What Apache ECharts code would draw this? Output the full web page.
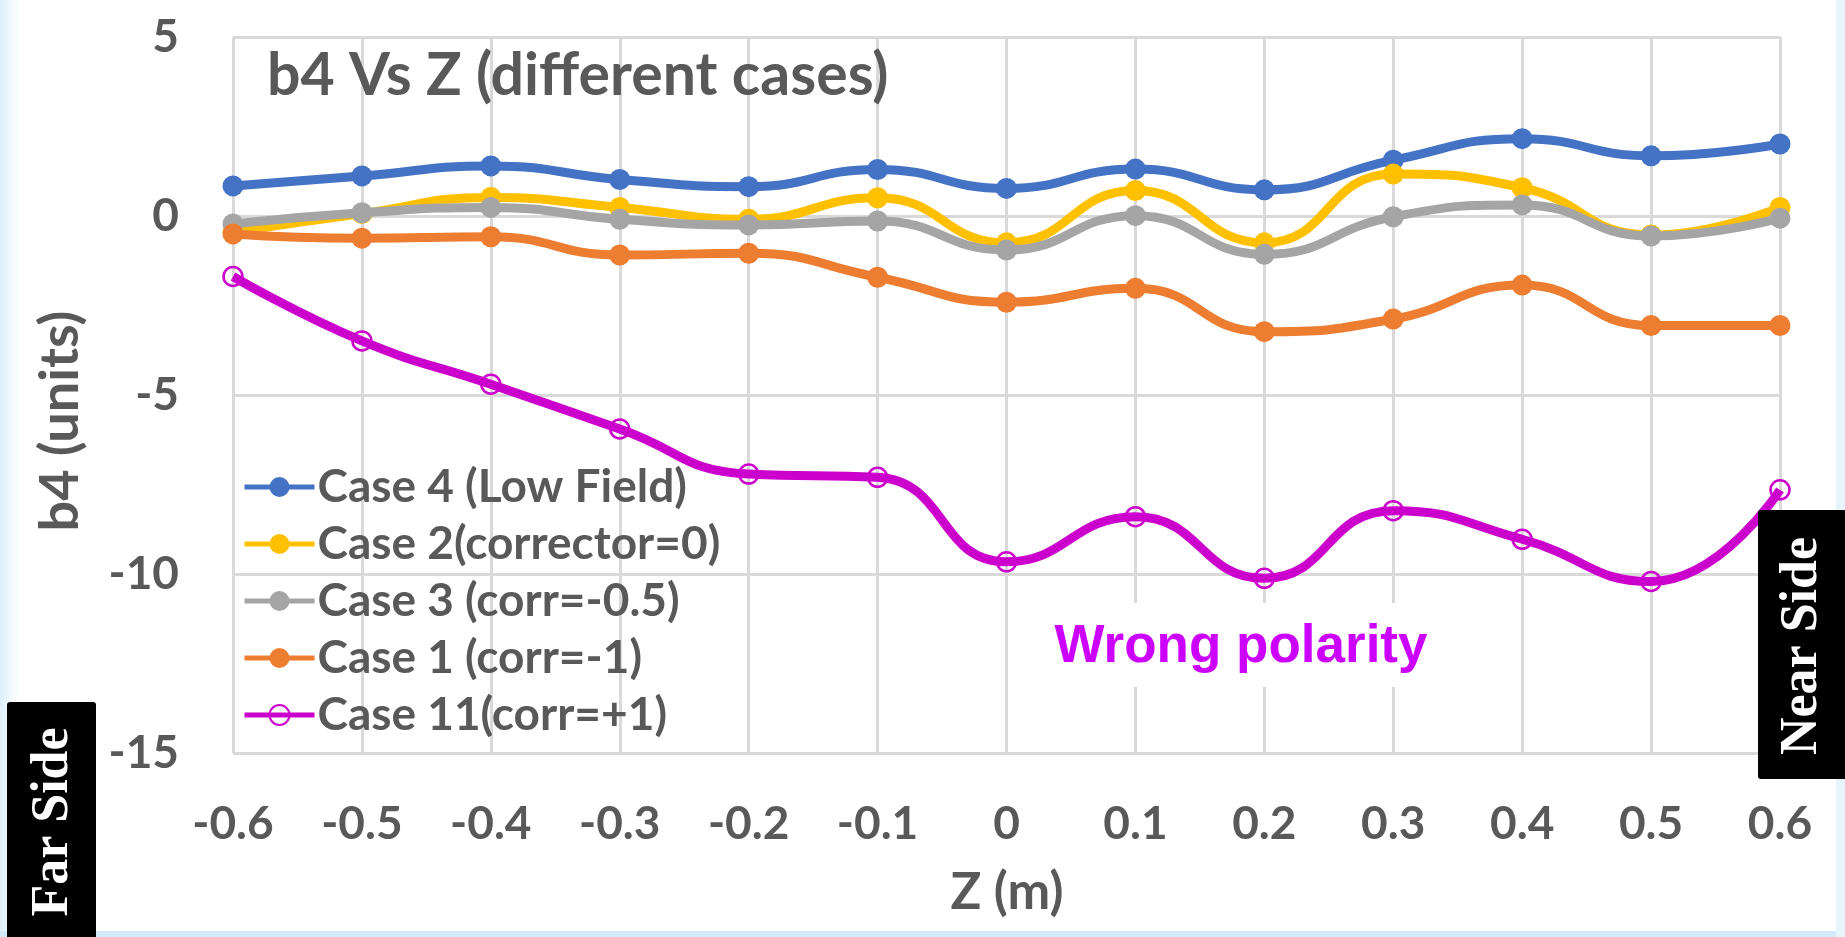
<!DOCTYPE html>
<html>
<head>
<meta charset="utf-8">
<title>b4 Vs Z (different cases)</title>
<script src="https://cdn.jsdelivr.net/npm/echarts@6/dist/echarts.min.js"></script>
<style>
  html, body { margin: 0; padding: 0; background: #ffffff; }
  #chart { width: 1845px; height: 937px; }
</style>
</head>
<body>
<div id="chart"></div>
<script>
// Axial position along the magnet (m)
const zPositions = [-0.6, -0.5, -0.4, -0.3, -0.2, -0.1, 0, 0.1, 0.2, 0.3, 0.4, 0.5, 0.6];

// b4 harmonic (units) for each case
const case4LowField   = [0.84, 1.12, 1.40, 1.02, 0.82, 1.30, 0.77, 1.31, 0.73, 1.56, 2.16, 1.68, 2.01];
const case2Corr0      = [-0.45, 0.07, 0.52, 0.24, -0.09, 0.51, -0.75, 0.71, -0.75, 1.17, 0.79, -0.53, 0.24];
const case3CorrM05    = [-0.22, 0.09, 0.24, -0.09, -0.25, -0.14, -0.95, 0.01, -1.07, -0.02, 0.31, -0.56, -0.06];
const case1CorrM1     = [-0.50, -0.62, -0.58, -1.09, -1.04, -1.71, -2.41, -2.02, -3.23, -2.88, -1.93, -3.06, -3.06];
const case11CorrP1    = [-1.69, -3.49, -4.70, -5.95, -7.21, -7.30, -9.66, -8.40, -10.12, -8.23, -9.03, -10.21, -7.65];

const seriesNames = [
  'Case 4 (Low Field)',
  'Case 2(corrector=0)',
  'Case 3 (corr=-0.5)',
  'Case 1 (corr=-1)',
  'Case 11(corr=+1)'
];
const seriesValues = [case4LowField, case2Corr0, case3CorrM05, case1CorrM1, case11CorrP1];
const seriesColors = ['#4472C4', '#FFC000', '#A5A5A5', '#ED7D31', '#CC00CC'];

const yTickValues = [5, 0, -5, -10, -15];

const labelFont = 'Lato, "Open Sans", sans-serif';
const textGrey = '#595959';
const gridGrey = '#D9D9D9';

function pairs(values) {
  return zPositions.map((z, i) => [z, values[i]]);
}

function fmtTick(v) {
  const r = Math.round(v * 10) / 10;
  return Math.abs(r) < 1e-9 ? '0' : String(r);
}

const series = seriesValues.map((vals, i) => {
  const hollow = i === 4;
  return {
    name: seriesNames[i],
    type: 'line',
    data: pairs(vals),
    smooth: 0.5,
    symbol: 'circle',
    symbolSize: hollow ? 19 : 21,
    lineStyle: { color: seriesColors[i], width: 9 },
    itemStyle: hollow
      ? { color: 'rgba(255,255,255,0)', borderColor: seriesColors[i], borderWidth: 2.5 }
      : { color: seriesColors[i] },
    z: 3 + i
  };
});

const chart = echarts.init(document.getElementById('chart'));
chart.setOption({
  animation: false,
  backgroundColor: '#ffffff',
  grid: { left: 233, right: 65, top: 37, bottom: 184 },
  xAxis: {
    type: 'value',
    min: -0.6,
    max: 0.6,
    interval: 0.1,
    axisLine: { show: false },
    axisTick: { show: false },
    splitLine: { show: true, lineStyle: { color: gridGrey, width: 3 } },
    axisLabel: {
      margin: 48,
      formatter: fmtTick,
      fontFamily: labelFont,
      fontWeight: 'bold',
      fontSize: 46,
      color: textGrey
    }
  },
  yAxis: {
    type: 'value',
    min: Math.min(...yTickValues),
    max: Math.max(...yTickValues),
    interval: 5,
    axisLine: { show: false },
    axisTick: { show: false },
    splitLine: { show: true, lineStyle: { color: gridGrey, width: 3 } },
    axisLabel: {
      margin: 54,
      fontFamily: labelFont,
      fontWeight: 'bold',
      fontSize: 46,
      color: textGrey
    }
  },
  legend: {
    orient: 'vertical',
    left: 242,
    top: 462,
    padding: 0,
    itemWidth: 70,
    itemHeight: 25,
    itemGap: 7,
    selectedMode: false,
    lineStyle: { width: 5 },
    textStyle: {
      fontFamily: labelFont,
      fontWeight: 'bold',
      fontSize: 46,
      lineHeight: 50,
      color: textGrey,
      padding: [0, 0, 0, -2]
    },
    data: seriesNames
  },
  graphic: [
    // light blue frame around the slide
    { type: 'rect', z: 50, shape: { x: 0, y: 0, width: 9, height: 937 },
      style: { fill: new echarts.graphic.LinearGradient(0, 0, 1, 0, [
        { offset: 0, color: '#DDEFFB' }, { offset: 1, color: '#EEF7FD' }]) } },
    { type: 'rect', z: 50, shape: { x: 9, y: 0, width: 12, height: 937 },
      style: { fill: new echarts.graphic.LinearGradient(0, 0, 1, 0, [
        { offset: 0, color: '#F1F8FD' }, { offset: 1, color: '#FFFFFF' }]) } },
    { type: 'rect', z: 50, shape: { x: 0, y: 931, width: 1845, height: 6 },
      style: { fill: '#D2EAFA' } },
    { type: 'rect', z: 50, shape: { x: 1836, y: 0, width: 9, height: 937 },
      style: { fill: '#E8F4FC' } },

    // chart title
    { type: 'text', z: 60, x: 267, y: 76,
      style: { text: 'b4 Vs Z (different cases)', fontFamily: labelFont, fontWeight: 'bold',
        fontSize: 59, fill: textGrey, textAlign: 'left', textVerticalAlign: 'middle' } },

    // axis titles
    { type: 'text', z: 60, x: 61, y: 421, rotation: Math.PI / 2,
      style: { text: 'b4 (units)', fontFamily: labelFont, fontWeight: 'bold',
        fontSize: 54, fill: textGrey, textAlign: 'center', textVerticalAlign: 'middle' } },
    { type: 'text', z: 60, x: 1007, y: 893,
      style: { text: 'Z (m)', fontFamily: labelFont, fontWeight: 'bold',
        fontSize: 51, fill: textGrey, textAlign: 'center', textVerticalAlign: 'middle' } },

    // annotation
    { type: 'rect', z: 1, shape: { x: 1040, y: 603, width: 405, height: 84 },
      style: { fill: '#FFFFFF' } },
    { type: 'text', z: 60, x: 1241, y: 647,
      style: { text: 'Wrong polarity', fontFamily: '"Liberation Sans", Arial, sans-serif',
        fontWeight: 'bold', fontSize: 53, fill: '#CC00FF',
        textAlign: 'center', textVerticalAlign: 'middle' } },

    // side markers
    { type: 'rect', z: 100, shape: { x: 7, y: 702, width: 89, height: 235, r: [3, 3, 0, 0] },
      style: { fill: '#000000' } },
    { type: 'text', z: 101, x: 54, y: 822, rotation: Math.PI / 2,
      style: { text: 'Far Side', fontFamily: '"Liberation Serif", "Times New Roman", serif',
        fontWeight: 'bold', fontSize: 52, fill: '#FFFFFF',
        textAlign: 'center', textVerticalAlign: 'middle' } },
    { type: 'rect', z: 100, shape: { x: 1758, y: 510, width: 87, height: 269, r: [3, 0, 0, 3] },
      style: { fill: '#000000' } },
    { type: 'text', z: 101, x: 1803, y: 646, rotation: Math.PI / 2,
      style: { text: 'Near Side', fontFamily: '"Liberation Serif", "Times New Roman", serif',
        fontWeight: 'bold', fontSize: 52, fill: '#FFFFFF',
        textAlign: 'center', textVerticalAlign: 'middle' } }
  ],
  series: series
});
</script>
</body>
</html>
